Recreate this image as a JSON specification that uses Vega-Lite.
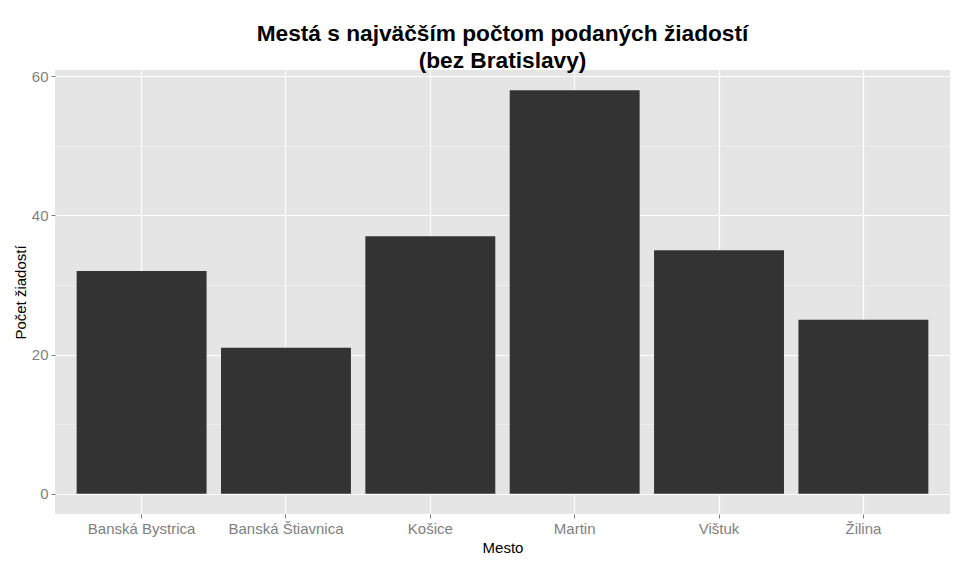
{
  "$schema": "https://vega.github.io/schema/vega-lite/v6.json",
  "width": 895,
  "height": 444,
  "autosize": {"type": "none"},
  "padding": {"left": 55, "top": 70, "right": 19, "bottom": 52},
  "background": "white",
  "title": {
    "text": ["Mestá s najväčším počtom podaných žiadostí", "(bez Bratislavy)"],
    "font": "Liberation Sans",
    "fontSize": 22.7,
    "fontWeight": "bold",
    "color": "black",
    "anchor": "middle",
    "lineHeight": 27,
    "baseline": "alphabetic",
    "offset": -21
  },
  "data": {
    "values": [
      {"Mesto": "Banská Bystrica", "Pocet": 32},
      {"Mesto": "Banská Štiavnica", "Pocet": 21},
      {"Mesto": "Košice", "Pocet": 37},
      {"Mesto": "Martin", "Pocet": 58},
      {"Mesto": "Vištuk", "Pocet": 35},
      {"Mesto": "Žilina", "Pocet": 25}
    ]
  },
  "mark": {"type": "bar", "color": "#333333"},
  "encoding": {
    "x": {
      "field": "Mesto",
      "type": "nominal",
      "title": "Mesto",
      "scale": {"paddingInner": 0.1, "paddingOuter": 0.15},
      "axis": {
        "labelAngle": 0,
        "grid": true,
        "gridColor": "white",
        "gridWidth": 1.2,
        "bandPosition": 0.5
      }
    },
    "y": {
      "field": "Pocet",
      "type": "quantitative",
      "title": "Počet žiadostí",
      "scale": {"domain": [-2.9, 60.9], "nice": false, "zero": false},
      "axis": {
        "values": [0, 10, 20, 30, 40, 50, 60],
        "labelExpr": "datum.value % 20 === 0 ? datum.label : ''",
        "tickOpacity": {"condition": {"test": "datum.value % 20 !== 0", "value": 0}, "value": 1},
        "gridColor": {"condition": {"test": "datum.value % 20 !== 0", "value": "#F2F2F2"}, "value": "white"},
        "gridWidth": {"condition": {"test": "datum.value % 20 !== 0", "value": 0.6}, "value": 1.2}
      }
    }
  },
  "config": {
    "view": {"fill": "#E5E5E5", "stroke": null},
    "axis": {
      "domain": false,
      "tickColor": "#7F7F7F",
      "tickSize": 4,
      "labelColor": "#7F7F7F",
      "labelFont": "Liberation Sans",
      "labelFontSize": 15,
      "labelPadding": 3,
      "titleFont": "Liberation Sans",
      "titleFontSize": 15,
      "titleFontWeight": "normal",
      "titleColor": "black"
    },
    "axisX": {"titlePadding": 4},
    "axisY": {"titlePadding": 3}
  }
}
